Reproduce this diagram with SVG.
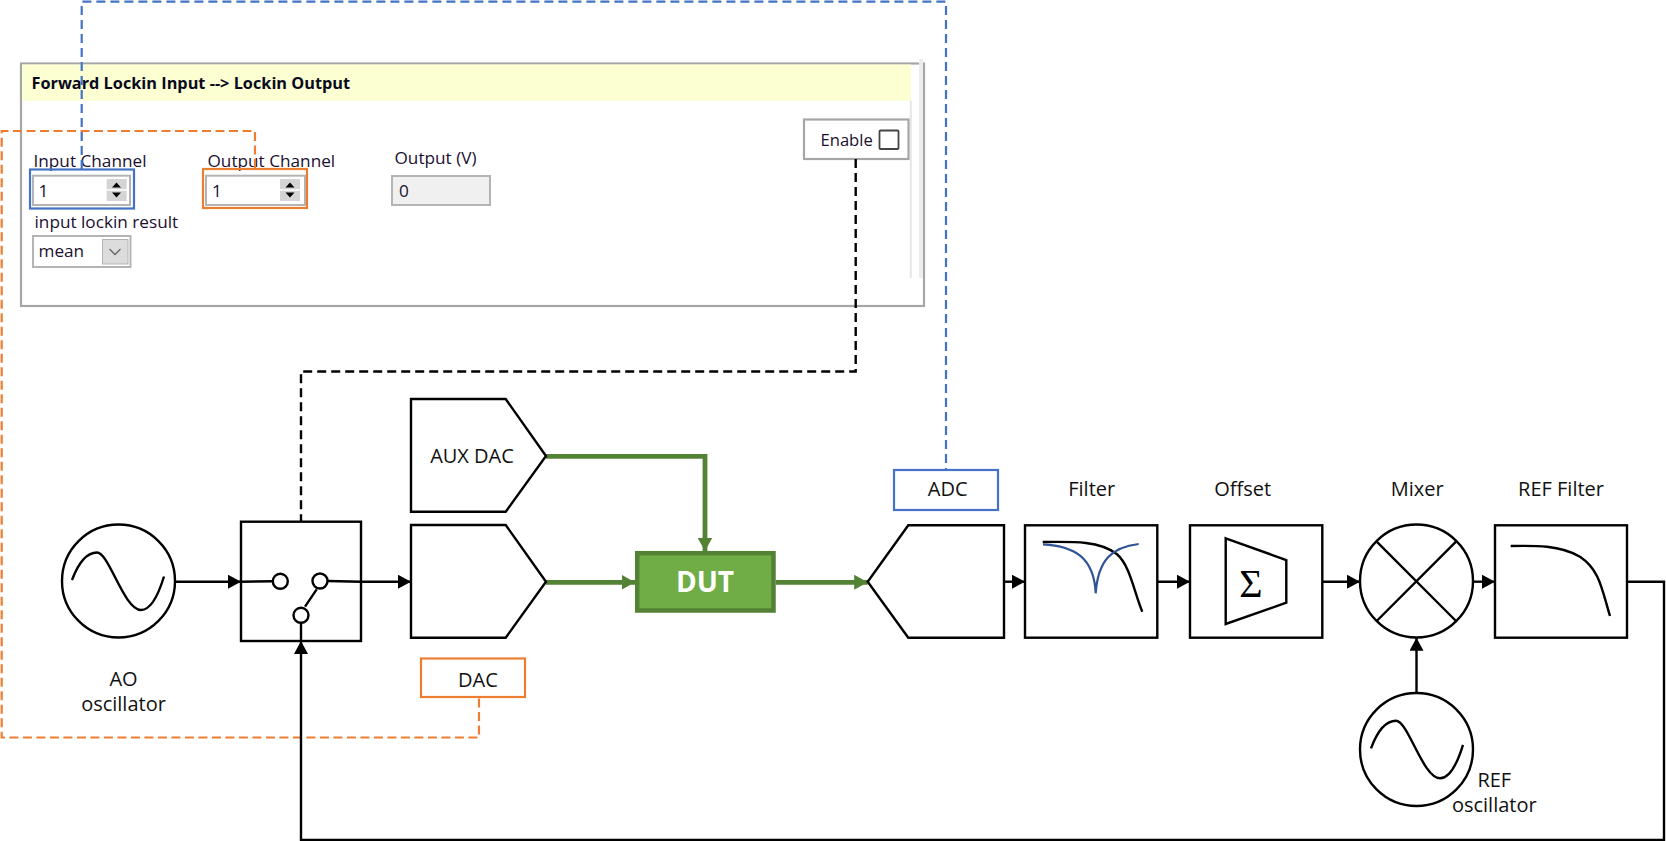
<svg xmlns="http://www.w3.org/2000/svg" width="1666" height="841" viewBox="0 0 1666 841">
<style>
text{font-family:"Open Sans","Noto Sans","Liberation Sans",sans-serif;fill:#111}
.l{font-size:20px;text-anchor:middle}
.p{font-size:17.2px;fill:#1a1030}
.s{fill:#fff;stroke:#000;stroke-width:2.4}
.n{fill:none;stroke:#000;stroke-width:2.400}
.g{fill:none;stroke:#548235;stroke-width:4.800}
.ctl{fill:#fff;stroke:#b4b4b4;stroke-width:2}
.spin{fill:#d4d4d4}
.sep{stroke:#fff;stroke-width:1.500}
</style>
<defs>
<marker id="a" markerUnits="userSpaceOnUse" markerWidth="14" markerHeight="14" refX="13" refY="7" orient="auto"><path d="M0 0L13 7L0 14Z" fill="#000"/></marker>
<marker id="ga" markerUnits="userSpaceOnUse" markerWidth="14" markerHeight="15" refX="13.500" refY="7.500" orient="auto"><path d="M0 0L13.500 7.500L0 15Z" fill="#548235"/></marker>
<path id="sine" d="M0 0C6 -16 14 -27.500 25 -27.500C37 -27.500 52 30 69 30C79 30 86 16 92 -3.500" fill="none" stroke="#000" stroke-width="2.400"/>
</defs>
<g id="panel">
<rect x="21" y="63.500" width="903" height="242.500" fill="#fff" stroke="#a6a6a6" stroke-width="2.200"/>
<rect x="22" y="64.500" width="889" height="36.200" fill="#fbffd2"/>
<path d="M910.800 100.700V278" stroke="#e6e6e6" stroke-width="2" fill="none"/>
<path d="M921 59V278" stroke="#ececec" stroke-width="4" fill="none"/>
<text x="31.500" y="89.300" style="font-size:16.300px;font-weight:700;fill:#0a0a1e">Forward Lockin Input --&gt; Lockin Output</text>
<text x="33.500" y="166.700" class="p">Input Channel</text>
<text x="207.500" y="166.700" class="p">Output Channel</text>
<text x="394.500" y="164.300" class="p">Output (V)</text>
<text x="34.500" y="227.700" class="p">input lockin result</text>
</g>
<g id="input-channel">
<rect x="33" y="175.700" width="97" height="29.300" class="ctl"/>
<rect x="106.700" y="179" width="20" height="22" class="spin"/>
<path d="M107 190H127" class="sep"/>
<path d="M116.500 182.500l-4.500 5h9zM116.500 197.500l-4.500-5h9z" fill="#000"/>
<text x="38.500" y="196.700" class="p">1</text>
<rect x="30" y="169.500" width="104" height="39" fill="none" stroke="#4472c4" stroke-width="2.200"/>
</g>
<g id="output-channel">
<rect x="206" y="175.700" width="99" height="29.300" class="ctl"/>
<rect x="280" y="179" width="20" height="22" class="spin"/>
<path d="M280 190H300" class="sep"/>
<path d="M290 182.500l-4.500 5h9zM290 197.500l-4.500-5h9z" fill="#000"/>
<text x="212" y="196.700" class="p">1</text>
<rect x="203" y="169" width="104" height="39" fill="none" stroke="#ed7d31" stroke-width="2.200"/>
</g>
<g id="output-v">
<rect x="392" y="176" width="98" height="29" fill="#f0f0f0" stroke="#b4b4b4" stroke-width="2"/>
<text x="399" y="196.700" class="p">0</text>
</g>
<g id="lockin-result">
<rect x="33" y="236" width="97.500" height="31" class="ctl"/>
<rect x="102.500" y="239.500" width="25.500" height="24.500" fill="#dcdcdc" stroke="#b4b4b4"/>
<path d="M109.500 249l5.500 5.500 5.500-5.500" fill="none" stroke="#666" stroke-width="1.300"/>
<text x="38.500" y="256.700" class="p">mean</text>
</g>
<g id="enable">
<rect x="804" y="119.500" width="104.500" height="39.500" fill="#fff" stroke="#a6a6a6" stroke-width="2.200"/>
<text x="820.500" y="145.700" class="p" style="font-size:16.600px">Enable</text>
<rect x="879.500" y="130.500" width="19" height="18.500" fill="#fff" stroke="#444" stroke-width="1.800" rx="1"/>
</g>
<g id="connectors">
<path d="M81.700 169V1.700H946V470" fill="none" stroke="#4472c4" stroke-width="2.200" stroke-dasharray="9 5"/>
<path d="M255 168V131H1.700V737.500H479V697" fill="none" stroke="#ed7d31" stroke-width="2.200" stroke-dasharray="9 4.500"/>
<path d="M855.700 159V371.500H301V521" fill="none" stroke="#000" stroke-width="2.400" stroke-dasharray="9 5"/>
<path d="M175 581.700H241" class="n" marker-end="url(#a)"/>
<path d="M361 581.700H411" class="n" marker-end="url(#a)"/>
<path d="M1004 581.700H1025" class="n" marker-end="url(#a)"/>
<path d="M1157.300 581.700H1190" class="n" marker-end="url(#a)"/>
<path d="M1322.300 581.700H1360" class="n" marker-end="url(#a)"/>
<path d="M1473 581.700H1495" class="n" marker-end="url(#a)"/>
<path d="M1416.500 692.700V637.700" class="n" marker-end="url(#a)"/>
<path d="M1627 581.700H1664V840H301V641" class="n" marker-end="url(#a)"/>
<path d="M546 456.300H705V551" class="g" marker-end="url(#ga)"/>
<path d="M546 582.300H635" class="g" marker-end="url(#ga)"/>
<path d="M775.700 582.300H867.700" class="g" marker-end="url(#ga)"/>
</g>
<g id="ao-oscillator">
<circle cx="118.500" cy="581" r="56.500" class="s"/>
<use href="#sine" x="72" y="580"/>
<text x="123.500" y="685.500" class="l">AO</text>
<text x="123.500" y="711" class="l">oscillator</text>
</g>
<g id="switch">
<rect x="241" y="521.700" width="120" height="119.300" class="s"/>
<path d="M241 581.700L272.500 581.300M328 581L361 581.700M305 606.700L316.700 589.300M301 623V641" class="n"/>
<circle cx="280.300" cy="581.300" r="7.500" class="s"/>
<circle cx="320" cy="581" r="7.500" class="s"/>
<circle cx="301" cy="615.300" r="7.500" class="s"/>
</g>
<g id="aux-dac">
<path d="M411 399H505.700L546 456L505.700 511.700H411Z" class="s"/>
<text x="472" y="462.500" class="l">AUX DAC</text>
</g>
<g id="dac">
<path d="M411 525H505.700L546 581.700L505.700 637.700H411Z" class="s"/>
</g>
<g id="dac-label">
<rect x="421" y="658.500" width="104" height="38.500" fill="#fff" stroke="#ed7d31" stroke-width="2.200"/>
<text x="478" y="686.500" class="l">DAC</text>
</g>
<g id="dut">
<rect x="637.200" y="553.200" width="136.300" height="57.300" fill="#70ad47" stroke="#548235" stroke-width="4.500"/>
<text x="705" y="591.700" text-anchor="middle" style="font-size:28px;font-weight:700;fill:#fff">DUT</text>
</g>
<g id="adc">
<path d="M1004 525.300H908.300L867.700 581.700L908.300 637.700H1004Z" class="s"/>
</g>
<g id="adc-label">
<rect x="894" y="470" width="104" height="40" fill="#fff" stroke="#4472c4" stroke-width="2.200"/>
<text x="947.700" y="496.200" class="l">ADC</text>
</g>
<g id="filter">
<rect x="1025" y="525.300" width="132.300" height="112.400" class="s"/>
<path d="M1042.700 542C1075 541.500 1100 541 1116.700 554C1130 565 1134 592 1142.300 611.700" class="n"/>
<path d="M1043 544.300C1075 546 1094 558 1095.700 593.300C1098 560 1112 547 1138.700 544" fill="none" stroke="#2f5597" stroke-width="2.200"/>
<text x="1091.700" y="496.200" class="l">Filter</text>
</g>
<g id="offset">
<rect x="1190" y="525.300" width="132.300" height="112.400" class="s"/>
<path d="M1225.700 538.300L1286.300 560V602.700L1225.700 624Z" class="s"/>
<text x="1251" y="596.700" text-anchor="middle" style="font-family:'Liberation Serif',serif;font-size:40px;fill:#000">Σ</text>
<text x="1242.700" y="496.200" class="l">Offset</text>
</g>
<g id="mixer">
<circle cx="1416.500" cy="581" r="56.500" class="s"/>
<path d="M1376.700 541.700L1456 621M1456 541.700L1376.700 621" class="n"/>
<text x="1417.300" y="496.200" class="l">Mixer</text>
</g>
<g id="ref-filter">
<rect x="1495" y="525.300" width="132" height="112.400" class="s"/>
<path d="M1510.700 546C1535 545.500 1560 545 1580 556.700C1600 570 1602 590 1610 616" class="n"/>
<text x="1561" y="496.200" class="l">REF Filter</text>
</g>
<g id="ref-oscillator">
<circle cx="1416.500" cy="749.500" r="56.500" class="s"/>
<use href="#sine" x="1371" y="748.300"/>
<text x="1494.300" y="786.700" class="l">REF</text>
<text x="1494.300" y="812.300" class="l">oscillator</text>
</g>
</svg>
